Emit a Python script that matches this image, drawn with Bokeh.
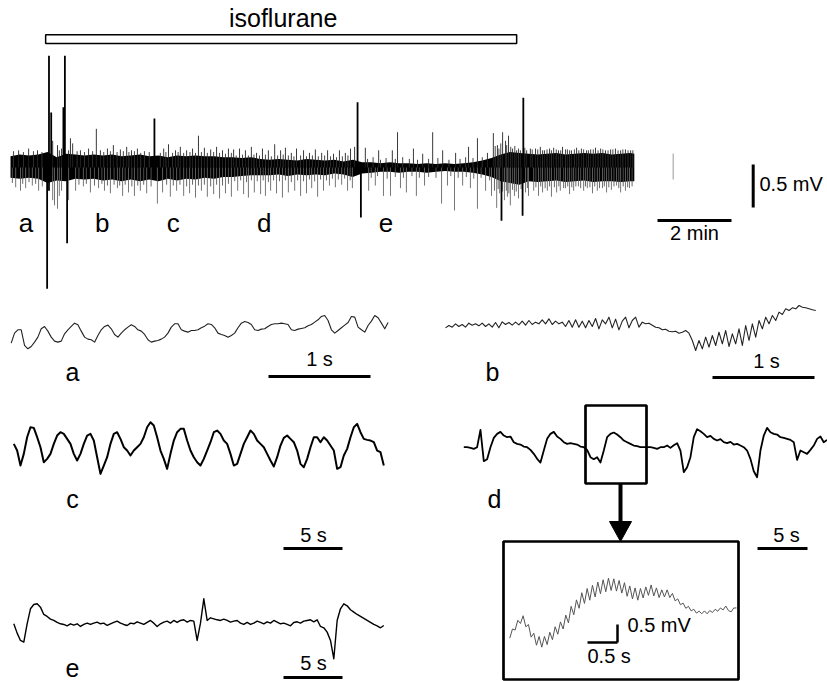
from bokeh.plotting import figure
from bokeh.models import Range1d
from bokeh.embed import file_html
from bokeh.resources import INLINE
from bokeh.core.properties import value

FONT = "Liberation Sans"

# ---------------- data ----------------
# isoflurane application (min)
iso_start, iso_end = 0.95, 13.68

# overview trace: dense core envelope (mV) vs time (min)
band_t = [0.0, 0.25, 0.5, 0.75, 1.0, 1.25, 1.5, 1.75, 2.0, 2.25, 2.5, 2.75, 3.0, 3.25, 3.5, 3.75,
          4.0, 4.25, 4.5, 4.75, 5.0, 5.25, 5.5, 5.75, 6.0, 6.25, 6.5, 6.75, 7.0, 7.25, 7.5, 7.75,
          8.0, 8.25, 8.5, 8.75, 9.0, 9.25, 9.5, 9.75, 10.0, 10.25, 10.5, 10.75, 11.0, 11.25, 11.5,
          11.75, 12.0, 12.25, 12.5, 12.75, 13.0, 13.25, 13.5, 13.75, 14.0, 14.25, 14.5, 14.75, 15.0,
          15.25, 15.5, 15.75, 16.0, 16.25, 16.5, 16.75, 16.86]
band_hi = [.13, .15, .14, .15, .18, .12, .16, .15, .14, .15,
           .14, .15, .13, .14, .15, .13, .14, .12, .14, .13,
           .14, .13, .13, .12, .12, .11, .12, .10, .09, .10,
           .09, .08, .10, .09, .08, .09, .07, .09, .06, .06,
           .05, .06, .05, .05, .04, .05, .04, .05, .04, .05,
           .06, .08, .11, .15, .18, .17, .16, .15, .16, .17,
           .15, .16, .17, .16, .17, .15, .16, .17, .16]
band_lo = [-.12, -.13, -.12, -.13, -.18, -.15, -.16, -.13, -.14, -.13,
           -.15, -.14, -.16, -.14, -.16, -.14, -.16, -.13, -.15, -.13,
           -.14, -.12, -.13, -.11, -.11, -.10, -.09, -.09, -.09, -.08,
           -.10, -.08, -.09, -.08, -.09, -.07, -.08, -.11, -.07, -.06,
           -.05, -.05, -.06, -.05, -.05, -.06, -.05, -.04, -.05, -.05,
           -.06, -.08, -.11, -.16, -.18, -.20, -.16, -.17, -.16, -.15,
           -.17, -.16, -.15, -.17, -.16, -.16, -.17, -.16, -.16]

# long upward / downward deflections of the overview trace (min, mV)
up_t = [0.22, 0.49, 0.73, 1.14, 1.27, 1.32, 1.38, 1.57, 1.62, 1.68, 1.89, 2.11, 2.32, 2.43, 2.62,
        2.78, 2.97, 3.14, 3.27, 3.43, 4.14, 4.27, 4.46, 4.59, 4.76, 4.92, 5.08, 5.24, 5.41, 5.57,
        5.73, 5.89, 6.03, 6.19, 6.35, 6.51, 6.65, 6.81, 6.97, 7.14, 7.30, 7.43, 7.59, 7.73, 7.92,
        8.08, 8.24, 8.41, 8.57, 8.73, 8.89, 9.05, 9.19, 9.30, 9.59, 9.95, 10.32, 10.46, 10.89,
        11.14, 11.41, 11.68, 12.03, 12.38, 12.62, 12.89, 13.05, 13.16, 13.30, 13.38, 13.46, 13.57,
        13.68, 13.78, 13.95, 14.05, 14.19, 14.32, 14.43, 14.57, 14.68, 14.81, 14.92, 15.05, 15.16,
        15.30, 15.43, 15.57, 15.68, 15.81, 15.95, 16.08, 16.22, 16.35, 16.49, 16.62, 16.76]
up_v = [0.20, 0.22, 0.20, 0.31, 0.26, 0.20, 0.22, 0.20, 0.34, 0.28, 0.20, 0.22, 0.45, 0.20, 0.22,
        0.26, 0.21, 0.24, 0.20, 0.22, 0.22, 0.27, 0.20, 0.24, 0.20, 0.22, 0.37, 0.23, 0.21, 0.24,
        0.20, 0.22, 0.21, 0.22, 0.20, 0.24, 0.17, 0.22, 0.20, 0.27, 0.20, 0.23, 0.17, 0.22, 0.20,
        0.17, 0.21, 0.17, 0.20, 0.16, 0.20, 0.17, 0.22, 0.24, 0.23, 0.20, 0.20, 0.41, 0.22,
        0.16, 0.41, 0.20, 0.17, 0.24, 0.34, 0.17, 0.40, 0.26, 0.41, 0.31, 0.37, 0.22,
        0.20, 0.20, 0.20, 0.22, 0.22, 0.24, 0.20, 0.22, 0.23, 0.20, 0.24, 0.21, 0.20,
        0.23, 0.22, 0.20, 0.21, 0.23, 0.22, 0.20, 0.21, 0.22, 0.20, 0.21, 0.20]
dn_t = [0.14, 0.27, 0.41, 0.59, 0.76, 0.86, 1.14, 1.19, 1.27, 1.32, 1.38, 1.57, 1.76, 1.97, 2.16,
        2.38, 2.54, 2.70, 2.89, 3.03, 3.19, 3.35, 3.51, 3.68, 3.97, 4.11, 4.32, 4.49, 4.68, 4.84,
        5.00, 5.16, 5.32, 5.49, 5.65, 5.81, 5.97, 6.14, 6.30, 6.43, 6.59, 6.76, 6.89, 7.03, 7.19,
        7.35, 7.51, 7.68, 7.84, 8.00, 8.14, 8.30, 8.46, 8.62, 8.78, 8.95, 9.11, 9.24, 9.68, 9.86,
        10.08, 10.27, 10.54, 10.70, 10.97, 11.19, 11.65, 11.81, 12.00, 12.22, 12.43, 12.62, 12.84,
        13.00, 13.14, 13.22, 13.35, 13.43, 13.51, 13.62, 13.73, 13.92, 14.00, 14.14, 14.27, 14.38,
        14.51, 14.62, 14.76, 14.86, 15.00, 15.11, 15.22, 15.35, 15.49, 15.59, 15.73, 15.86, 16.00,
        16.11, 16.24, 16.38, 16.49, 16.62, 16.73]
dn_v = [-0.23, -0.27, -0.24, -0.21, -0.27, -0.22, -0.38, -0.44, -0.48, -0.33, -0.27, -0.38, -0.27,
        -0.22, -0.29, -0.24, -0.27, -0.30, -0.24, -0.33, -0.29, -0.33, -0.27, -0.30, -0.42, -0.29,
        -0.34, -0.27, -0.33, -0.30, -0.35, -0.27, -0.34, -0.31, -0.36, -0.30, -0.34, -0.27, -0.31,
        -0.35, -0.29, -0.31, -0.33, -0.27, -0.30, -0.35, -0.29, -0.27, -0.33, -0.30, -0.24, -0.34,
        -0.27, -0.21, -0.23, -0.20, -0.27, -0.24, -0.27, -0.21, -0.33, -0.33, -0.24, -0.29, -0.33,
        -0.21, -0.42, -0.21, -0.50, -0.21, -0.24, -0.48, -0.27, -0.33, -0.47, -0.30, -0.38, -0.34,
        -0.44, -0.33, -0.36, -0.29, -0.33, -0.27, -0.33, -0.29, -0.27, -0.34, -0.29, -0.27, -0.24,
        -0.31, -0.27, -0.22, -0.27, -0.24, -0.30, -0.27, -0.24, -0.29, -0.26, -0.21, -0.29, -0.27,
        -0.24]
# shorter deflections just outside the dense core (min, mV)
up2_t = [0.08, 0.35, 0.62, 0.85, 1.80, 2.00, 2.22, 2.52, 2.70, 2.88, 3.05, 3.20, 3.35, 3.52, 3.62,
         3.75, 4.05, 4.20, 4.38, 4.53, 4.68, 4.85, 5.00, 5.16, 5.32, 5.49, 5.65, 5.81, 5.97, 6.10,
         6.27, 6.43, 6.58, 6.73, 6.89, 7.05, 7.22, 7.37, 7.51, 7.66, 7.84, 8.00, 8.16, 8.32, 8.49,
         8.65, 8.81, 8.97, 9.12, 9.65, 9.80, 10.00, 10.15, 10.40, 10.60, 10.78, 11.00, 11.30, 11.55,
         11.85, 12.15, 12.30, 12.50, 12.75, 13.10, 13.20, 13.25, 13.41, 13.52, 13.63, 13.73, 13.90,
         14.10, 14.25, 14.38, 14.50, 14.62, 14.75, 14.87, 15.00, 15.11, 15.24, 15.36, 15.49, 15.62,
         15.75, 15.88, 16.01, 16.15, 16.28, 16.42, 16.55, 16.69, 16.82]
up2_v = [.19, .18, .19, .18, .19, .18, .19, .18, .19, .18, .19, .18, .19, .17, .19,
         .18, .17, .18, .17, .18, .17, .18, .17, .18, .17, .18, .17, .16, .17, .14,
         .15, .14, .15, .14, .15, .13, .14, .15, .14, .13, .14, .13, .14, .13, .14,
         .13, .12, .13, .14, .10, .12, .09, .11, .10, .12, .10, .09, .10, .11,
         .09, .10, .12, .11, .12, .25, .22, .28, .26, .24, .25, .22, .23,
         .21, .21, .20, .21, .20, .21, .20, .21, .20, .21, .20, .21, .20,
         .21, .20, .21, .20, .21, .20, .21, .20, .20]
dn2_t = [0.05, 0.33, 0.50, 0.68, 1.85, 2.05, 2.27, 2.47, 2.62, 2.80, 2.95, 3.10, 3.28, 3.44, 3.60,
         3.80, 4.22, 4.40, 4.58, 4.76, 4.92, 5.08, 5.24, 5.41, 5.57, 5.73, 5.89, 6.06, 6.22, 6.38,
         6.51, 6.67, 6.83, 6.97, 7.11, 7.27, 7.43, 7.59, 7.76, 7.92, 8.08, 8.22, 8.38, 8.54, 8.70,
         8.86, 9.03, 9.18, 9.75, 9.92, 10.18, 10.40, 10.62, 10.85, 11.05, 11.30, 11.50, 11.90,
         12.10, 12.32, 12.52, 12.72, 12.95, 13.08, 13.18, 13.30, 13.40, 13.47, 13.57, 13.67, 13.80,
         13.97, 14.20, 14.33, 14.45, 14.57, 14.70, 14.82, 14.95, 15.06, 15.17, 15.28, 15.41, 15.54,
         15.66, 15.79, 15.92, 16.05, 16.17, 16.31, 16.44, 16.56, 16.68, 16.80]
dn2_v = [-.18, -.19, -.17, -.19, -.20, -.19, -.21, -.19, -.21, -.20, -.21, -.20, -.22, -.21, -.20,
         -.22, -.20, -.21, -.20, -.22, -.20, -.21, -.20, -.22, -.20, -.21, -.19, -.16, -.15, -.17,
         -.15, -.16, -.15, -.17, -.15, -.16, -.15, -.17, -.15, -.16, -.14, -.16, -.14, -.15, -.13,
         -.14, -.13, -.15, -.12, -.10, -.13, -.11, -.12, -.10, -.12, -.11, -.12, -.10,
         -.12, -.11, -.13, -.12, -.15, -.27, -.25, -.28, -.27, -.30, -.26, -.28, -.25,
         -.24, -.23, -.22, -.24, -.22, -.23, -.22, -.24, -.22, -.23, -.22, -.24, -.22,
         -.23, -.22, -.24, -.22, -.23, -.22, -.24, -.22, -.23, -.22]
# large discharges (min, top mV, bottom mV)
big_t = [0.99, 1.04, 1.10, 1.43, 1.47, 1.53, 3.89, 9.38, 9.47, 13.27, 13.84, 13.86]
big_hi = [0.0, 1.30, 0.64, 0.70, 1.30, 0.08, 0.57, 0.76, 0.02, 0.0, 0.0, 0.81]
big_lo = [-1.41, -0.27, -0.10, -0.15, -0.10, -0.88, -0.10, -0.05, -0.58, -0.62, -0.56, -0.10]

# expanded epochs (uV), uniformly sampled
trace_a = [-112, 8, 48, 48, -140, -180, -152, -100, -40, 60, 88, 32, -40, -88, -100, -88, 0, 48,
           88, 128, 108, 32, -40, -64, -72, -100, -20, 48, 88, 104, 60, -8, -40, 8, 48, 80, 108,
           88, 48, 32, -8, -72, -100, -88, -80, -64, -40, 8, 80, 120, 120, 48, 32, 20, 40, 40, 48,
           72, 92, 120, 112, 72, 8, -8, -20, -40, -20, 8, 72, 128, 148, 136, 112, 48, 40, 56, 60,
           88, 112, 120, 120, 128, 120, 112, 48, 40, 56, 64, 72, 96, 112, 140, 168, 208, 220, 160,
           48, 8, 40, 72, 104, 136, 208, 200, 80, 48, 20, 100, 152, 220, 192, 128, 60, 136]
trace_b = [-28, 0, -20, 20, -12, 12, -20, 28, 4, 20, -4, 28, -12, 20, -20, 36, -28, 44, 12, 36, 4,
           40, 8, 52, 4, 60, 12, 40, 20, 68, 20, 80, 12, 52, 20, 40, -12, 60, -20, 68, -20, 52,
           -28, 60, -12, 84, -40, 68, 20, 100, -28, 76, -52, 52, 100, -28, 60, 100, -20, 40, 20,
           28, 4, -20, -28, -52, -44, -68, -76, -68, -92, -80, -60, -92, -180, -300, -180, -280,
           -140, -260, -120, -240, -80, -220, -60, -252, -100, -220, -40, -240, 0, -180, 20, -140,
           60, -40, 100, 20, 120, 60, 160, 132, 200, 180, 212, 200, 240, 220, 212, 200, 188, 180]
trace_c = [40, -40, -220, -80, 120, 240, 232, 120, 0, -180, -140, -80, 40, 140, 180, 160, 100, 40,
           -80, -160, -80, 40, 140, 160, 80, -120, -320, -220, -120, 40, 160, 180, 100, 0, -40,
           -100, -40, 0, 40, 120, 240, 300, 260, 120, -40, -140, -260, -80, 80, 180, 220, 220, 80,
           -40, -120, -180, -220, -140, -40, 60, 180, 200, 160, 80, 40, -80, -220, -200, -80, 40,
           120, 200, 160, 80, 40, 0, -80, -160, -232, -120, 20, 112, 140, 100, 60, -40, -200, -240,
           -140, 0, 120, 120, 60, 120, 80, 20, -40, -260, -240, -100, -20, 120, 240, 280, 180, 100,
           88, 80, 60, -40, -60, -220]
trace_d = [0, 0, -8, -20, 0, 208, -168, -144, 0, 112, 160, 184, 140, 120, 128, 60, 40, 32, 8, 0,
           -32, -80, -140, -184, -40, 100, 160, 184, 128, 100, 60, 40, 48, 40, 32, 8, 0, -32, -120,
           -144, -120, -184, -40, 120, 160, 176, 152, 120, 80, 60, 40, 20, 12, 0, 0, 0, 0, -8, -20,
           0, 0, 20, -8, 24, 48, -40, -300, -240, -120, 120, 216, 192, 160, 120, 136, 100, 80, 96,
           60, 48, 64, 32, 40, 20, 0, -40, -140, -288, -360, -40, 140, 232, 180, 160, 152, 120, 112,
           100, 88, 60, -152, -40, -60, -80, -32, 20, 100, 128, 60, 88]
trace_e = [0, -112, -200, -220, 0, 180, 232, 240, 200, 112, 88, 56, 40, 16, 0, -8, -24, 0, -16, 0,
           -32, -8, 8, -8, 8, 20, 0, 8, -20, 0, 16, 32, 8, -8, -20, 8, 0, 24, 8, -8, 16, 40, 8, -32,
           0, 20, 32, 8, 40, 16, 40, 48, 20, 40, 32, -200, 8, 300, 40, 72, 60, 48, 40, 56, 40, 20,
           32, 40, 8, -8, 16, -8, 8, 32, 16, 0, 24, 8, 40, 20, 0, 8, -8, -24, 16, 24, 8, 32, 40, 48,
           24, 48, -32, -48, -100, -200, -420, 40, 180, 240, 216, 168, 140, 112, 88, 64, 40, 16, -8,
           -24, -48, -20]
trace_inset = [-675, -423, -450, -180, -270, -54, -360, -297, -648, -540, -873, -630, -927, -630,
               -855, -513, -720, -360, -567, -225, -423, -36, -252, 207, -27, 387, 153, 585, 288,
               702, 378, 792, 468, 882, 558, 945, 612, 990, 648, 972, 630, 927, 576, 864, 486, 774,
               414, 720, 378, 702, 441, 747, 513, 801, 495, 720, 450, 666, 468, 666, 450, 567, 360,
               414, 252, 297, 153, 207, 81, 126, 18, 72, 0, 81, 0, 90, 36, 126, 72, 162, 108, 216,
               90, 54, 162, 162]

epoch_labels = ["a", "b", "c", "d", "e"]
epoch_marks = [0.42, 2.48, 4.40, 6.86, 10.15]   # min, where each epoch label sits

# ---------------- figure ----------------
W, H = 827, 681
p = figure(width=W, height=H, x_range=Range1d(0, W), y_range=Range1d(H, 0),
           x_axis_type=None, y_axis_type=None, toolbar_location=None, output_backend="svg",
           min_border=0, outline_line_color=None, background_fill_color="white",
           border_fill_color="white")
p.xgrid.visible = False
p.ygrid.visible = False


def txt(x, base, s, size, align="left"):
    # anchor shifted so that the glyph baseline lands on `base`
    p.text(x=[x], y=[base - 0.4 * size], text=[s], text_font=value(FONT),
           text_font_size=value(f"{size}px"), text_align=align,
           text_baseline="alphabetic", text_color="black")


# overview panel layout
MX0, MY0, PX_MIN, PX_MV = 10.0, 167.0, 37.0, 86.0
mx = lambda t: MX0 + PX_MIN * t
my = lambda v: MY0 - PX_MV * v

# isoflurane bar
p.quad(left=[mx(iso_start)], right=[mx(iso_end)], top=[34.3], bottom=[43.0],
       fill_color="white", line_color="black", line_width=1.5)
txt((mx(iso_start) + mx(iso_end)) / 2 + 2, 27, "isoflurane", 25, "center")

p.varea(x=[mx(t) for t in band_t], y1=[my(v) for v in band_hi], y2=[my(v) for v in band_lo],
        fill_color="black")


def whiskers(ts, vs, color, width):
    p.segment(x0=[mx(t) for t in ts], y0=[MY0] * len(ts), x1=[mx(t) for t in ts],
              y1=[my(v) for v in vs], line_color=color, line_width=width)


whiskers(up2_t, up2_v, "#333333", 0.9)
whiskers(dn2_t, dn2_v, "#555555", 0.9)
whiskers(up_t, up_v, "#222222", 0.9)
whiskers(dn_t, dn_v, "#666666", 0.9)
p.segment(x0=[mx(t) for t in big_t], y0=[my(v) for v in big_hi], x1=[mx(t) for t in big_t],
          y1=[my(v) for v in big_lo], line_color="black", line_width=1.8)

# stray mark and calibration bars of overview
p.segment(x0=[672.7], y0=[153], x1=[672.7], y1=[179], line_color="#aaaaaa", line_width=1.2)
p.segment(x0=[752.7], y0=[164], x1=[752.7], y1=[164 + 0.5 * PX_MV], line_color="black", line_width=3)
txt(759, 191, "0.5 mV", 20)
p.segment(x0=[657], y0=[220], x1=[657 + 2 * PX_MIN], y1=[220], line_color="black", line_width=3)
txt(657 + PX_MIN, 240, "2 min", 20, "center")

for lab, t in zip(epoch_labels, epoch_marks):
    txt(mx(t), 233, lab, 26, "center")


# expanded traces
def trace(vals, x0, y0, dt, px_s, px_v, color, width):
    xs = [x0 + i * dt * px_s for i in range(len(vals))]
    ys = [y0 - v * px_v for v in vals]
    p.line(xs, ys, line_color=color, line_width=width, line_join="round")


PXV = 1.0 / 12.0
trace(trace_a, 10.7, 333.3, 0.0327, 102, PXV, "#222222", 1.1)
trace(trace_b, 445.0, 325.0, 0.0327, 102, PXV, "#222222", 1.1)
trace(trace_c, 13.3, 446.7, 0.2825, 11.8, PXV, "black", 2.0)
trace(trace_d, 463.3, 446.7, 0.3333, 10.0, PXV, "black", 1.8)
trace(trace_e, 13.3, 623.3, 0.2825, 11.8, PXV, "black", 1.4)
trace(trace_inset, 509.3, 613.3, 0.04444, 60, 0.036, "#555555", 1.0)


def hbar(x0, y, length):
    p.segment(x0=[x0], y0=[y], x1=[x0 + length], y1=[y], line_color="black", line_width=3)


# 1 s bars
hbar(268, 376, 1 * 102)
txt(268 + 51, 366, "1 s", 20, "center")
hbar(712, 377, 1 * 102)
txt(712 + 54, 368, "1 s", 20, "center")
# 5 s bars
hbar(283, 548, 5 * 11.8)
txt(283 + 30, 542, "5 s", 20, "center")
hbar(757, 548, 5 * 10.0)
txt(757 + 29, 542, "5 s", 20, "center")
hbar(283, 677, 5 * 11.8)
txt(283 + 30, 670, "5 s", 20, "center")

txt(72, 381, "a", 25, "center")
txt(492, 381, "b", 25, "center")
txt(72, 508, "c", 25, "center")
txt(494, 508, "d", 25, "center")
txt(72, 677, "e", 25, "center")

# zoom box on d, arrow and inset
p.quad(left=[585], right=[646], top=[405], bottom=[483], fill_color=None,
       line_color="black", line_width=2.7)
p.segment(x0=[620], y0=[483], x1=[620], y1=[523], line_color="black", line_width=4)
p.patch(x=[609, 631, 620], y=[521, 521, 541], fill_color="black", line_color="black")
p.quad(left=[503], right=[738], top=[541], bottom=[679], fill_color=None,
       line_color="black", line_width=2.7)
p.segment(x0=[617], y0=[624], x1=[617], y1=[624 + 0.5 * 36], line_color="black", line_width=2.5)
p.segment(x0=[617 - 0.5 * 60], y0=[642], x1=[617], y1=[642], line_color="black", line_width=2.5)
txt(627, 632, "0.5 mV", 20)
txt(587, 663, "0.5 s", 20)

open("out.html", "w").write(file_html(p, INLINE))
